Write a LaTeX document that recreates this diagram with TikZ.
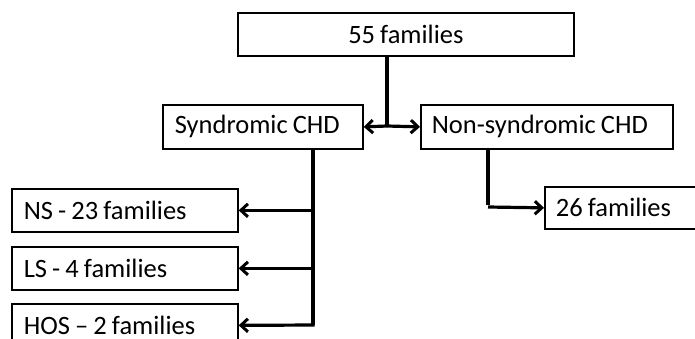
\documentclass[tikz,border=0pt]{standalone}
\usepackage{fontspec}
\setmainfont{Carlito}[WordSpace=0.85]
\usetikzlibrary{arrows.meta}
\begin{document}
\begin{tikzpicture}[x=1pt,y=-1pt,
  box/.style={draw, line width=1.7pt, minimum height=43pt, inner xsep=12pt, inner ysep=0pt,
    anchor=north west, font=\fontsize{26.5}{30}\selectfont, align=flush left},
  conn/.style={line width=3.2pt},
  arr/.style={conn, -{Straight Barb[length=7pt, width=13pt, line width=3pt]}}]
\useasboundingbox (0,0) rectangle (695,338);
\clip (0,0) rectangle (695,338);

% boxes
\node[box, minimum width=336pt, align=center] (top) at (237,12) {55 families};
\node[box, minimum width=200pt, minimum height=44pt, text width=176pt] (syn) at (162,104) {Syndromic CHD};
\node[box, minimum width=252pt, minimum height=44pt, text width=230pt, inner xsep=11pt] (non) at (420,104) {Non-syndromic CHD};
\node[box, minimum width=226pt, text width=202pt] (ns) at (11,188) {NS - 23 families};
\node[box, minimum width=226pt, text width=202pt] (ls) at (11,246) {LS - 4 families};
\node[box, minimum width=226pt, text width=202pt] (hos) at (11,303) {HOS -- 2 families};
\node[box, minimum width=170pt, minimum height=42pt, text width=148pt, inner xsep=11pt] (f26) at (544,186) {26 families};

% junction points of the branch lines
\coordinate (j0) at (387,55);
\coordinate (j1) at (387,126);
\coordinate (s0) at (313,148);
\coordinate (s1) at (313,325);
\coordinate (n0) at (488,148);
\coordinate (n1) at (488,207);

% top split
\draw[conn] (j0) -- (j1);
\draw[arr] (j1) -- (syn.east);
\draw[arr] (j1) -- (non.west);

% syndromic branch
\draw[conn] (s0) -- (s1);
\draw[arr] (s0 |- ns.east) -- (ns.east);
\draw[arr] (s0 |- ls.east) -- (ls.east);
\draw[arr] ([xshift=1.6pt]s1) -- (hos.east);

% non-syndromic branch
\draw[conn] (n0) -- ([yshift=1.6pt]n1);
\draw[arr] (n1) -- (f26.west);
\end{tikzpicture}
\end{document}
